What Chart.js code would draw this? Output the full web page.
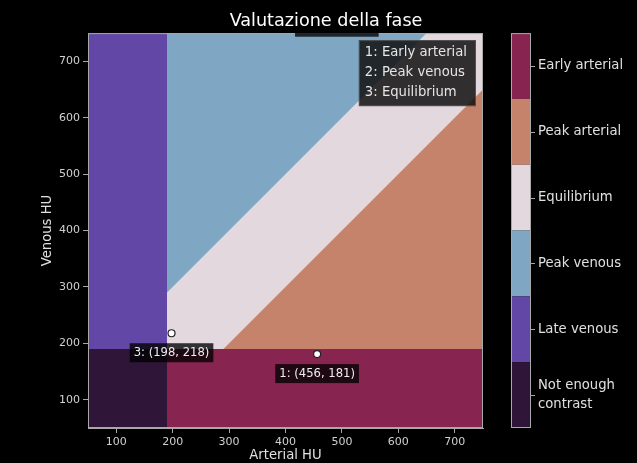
<!DOCTYPE html>
<html>
<head>
<meta charset="utf-8">
<script src="https://cdn.jsdelivr.net/npm/chart.js@4.4.1/dist/chart.umd.min.js"></script>
<style>
  html, body { margin: 0; padding: 0; background: #000; }
  canvas { display: block; }
</style>
</head>
<body>
<canvas id="fase" width="637" height="463"></canvas>
<script>
const phases = ["Early arterial", "Peak arterial", "Equilibrium", "Peak venous", "Late venous", ["Not enough", "contrast"]];
const phaseColors = ["#87244f", "#c4836a", "#e2d8de", "#7fa6c2", "#6247a6", "#2f1538"];

// edge of each phase region, the fill runs to the top or bottom of the plot
const equilibriumEdge = [[50, 750], [750, 750]];
const peakVenousEdge = [[50, 150], [650, 750], [750, 750]];
const peakArterialEdge = [[150, 50], [750, 650]];
const earlyArterialEdge = [[190, 190], [750, 190]];
const lateVenousEdge = [[50, 750], [190, 750]];
const lowContrastEdge = [[50, 190], [190, 190]];

const pointIds = ["1", "2", "3"];
const arterialHU = [456, 491, 198];
const venousHU = [181, 795, 218];
const legendLines = ["1: Early arterial", "2: Peak venous", "3: Equilibrium"];

const huTicks = [100, 200, 300, 400, 500, 600, 700];

Chart.defaults.font.family = "'DejaVu Sans', sans-serif";

function region(edge, color, fill, order) {
  return {
    type: "line",
    data: edge.map(([x, y]) => ({ x, y })),
    backgroundColor: color,
    borderColor: "transparent",
    borderWidth: 0,
    pointRadius: 0,
    tension: 0,
    fill,
    order
  };
}

const overlay = {
  id: "overlay",
  afterDatasetsDraw(chart) {
    const { ctx, chartArea: a, scales: { x, y, cb } } = chart;
    ctx.save();

    // plot frame
    ctx.strokeStyle = "#a8a8a8";
    ctx.lineWidth = 1;
    ctx.strokeRect(a.left + 0.5, a.top + 0.5, a.right - a.left - 1, a.bottom - a.top - 1);

    // colour bar
    const bx = cb.left + 28, bw = 20, n = phases.length;
    phases.forEach((p, i) => {
      const top = cb.getPixelForValue(n - i);
      const bot = cb.getPixelForValue(n - i - 1);
      ctx.fillStyle = phaseColors[i];
      ctx.fillRect(bx, top, bw, bot - top);
      const mid = Math.round((top + bot) / 2);
      ctx.beginPath();
      ctx.moveTo(bx + bw, mid + 0.5);
      ctx.lineTo(bx + bw + 4, mid + 0.5);
      ctx.stroke();
    });
    ctx.strokeRect(bx + 0.5, cb.getPixelForValue(n) + 0.5, bw - 1, cb.getPixelForValue(0) - cb.getPixelForValue(n) - 1);

    // point labels (the one above the plot slips under the title)
    const clipTop = a.top - 5;
    ctx.save();
    ctx.beginPath();
    ctx.rect(0, clipTop, chart.width, chart.height);
    ctx.clip();
    ctx.font = "11.6px 'DejaVu Sans'";
    ctx.textAlign = "center";
    ctx.textBaseline = "middle";
    pointIds.forEach((id, i) => {
      const px = x.getPixelForValue(arterialHU[i]);
      const py = y.getPixelForValue(venousHU[i]);
      const txt = id + ": (" + arterialHU[i] + ", " + venousHU[i] + ")";
      const w = ctx.measureText(txt).width + 8;
      ctx.fillStyle = "rgba(0,0,0,0.78)";
      ctx.fillRect(px - w / 2, py + 10, w, 19);
      if (py + 14 >= clipTop) {
        ctx.fillStyle = "#eeeeee";
        ctx.fillText(txt, px, py + 20);
      }
    });
    ctx.restore();

    // legend box
    ctx.font = "13.2px 'DejaVu Sans'";
    const lw = Math.max(...legendLines.map(t => ctx.measureText(t).width)) + 15;
    const lh = 66;
    const lx = a.right - 7 - lw, ly = a.top + 7;
    ctx.fillStyle = "rgba(16,16,16,0.85)";
    ctx.fillRect(lx, ly, lw, lh);
    ctx.strokeStyle = "rgba(90,90,90,0.8)";
    ctx.strokeRect(lx + 0.5, ly + 0.5, lw - 1, lh - 1);
    ctx.fillStyle = "#e6e6e6";
    ctx.textAlign = "left";
    ctx.textBaseline = "middle";
    legendLines.forEach((t, i) => ctx.fillText(t, lx + 6, ly + 12 + i * 20.3));

    ctx.restore();
  }
};

new Chart(document.getElementById("fase"), {
  type: "line",
  data: {
    datasets: [
      {
        type: "line",
        data: arterialHU.map((v, i) => ({ x: v, y: venousHU[i] })),
        showLine: false,
        pointRadius: 3.5,
        pointBackgroundColor: "#ffffff",
        pointBorderColor: "#222222",
        pointBorderWidth: 1.2,
        order: 0
      },
      region(lowContrastEdge, phaseColors[5], "start", 1),
      region(lateVenousEdge, phaseColors[4], "start", 2),
      region(earlyArterialEdge, phaseColors[0], "start", 3),
      region(peakArterialEdge, phaseColors[1], "start", 4),
      region(peakVenousEdge, phaseColors[3], "end", 5),
      region(equilibriumEdge, phaseColors[2], "start", 6)
    ]
  },
  options: {
    responsive: false,
    animation: false,
    layout: { padding: { left: 15, right: 0, top: 0, bottom: 0 } },
    plugins: {
      legend: { display: false },
      tooltip: { enabled: false },
      title: {
        display: true,
        text: "Valutazione della fase",
        color: "#ffffff",
        font: { size: 17.6, weight: "normal" },
        padding: { top: 11, bottom: 1 }
      }
    },
    scales: {
      x: {
        type: "linear",
        min: 50,
        max: 750,
        afterBuildTicks: s => { s.ticks = huTicks.map(v => ({ value: v })); },
        afterFit: s => { s.height = 35; },
        ticks: { color: "#d0d0d0", font: { size: 11 }, padding: 3, maxRotation: 0 },
        grid: { drawOnChartArea: false, tickLength: 5, color: "#a8a8a8" },
        border: { color: "#a8a8a8" },
        title: { display: true, text: "Arterial HU", color: "#e0e0e0", font: { size: 13.2 }, padding: { top: 0, bottom: 0 } }
      },
      y: {
        type: "linear",
        min: 50,
        max: 750,
        afterBuildTicks: s => { s.ticks = huTicks.map(v => ({ value: v })); },
        afterFit: s => { s.width = 73; },
        ticks: { color: "#d0d0d0", font: { size: 11 }, padding: 3 },
        grid: { drawOnChartArea: false, tickLength: 5, color: "#a8a8a8" },
        border: { color: "#a8a8a8" },
        title: { display: true, text: "Venous HU", color: "#e0e0e0", font: { size: 13.2 }, padding: { top: 25, bottom: 0 } }
      },
      cb: {
        type: "linear",
        position: "right",
        min: 0,
        max: phases.length,
        afterBuildTicks: s => { s.ticks = phases.map((p, i) => ({ value: phases.length - i - 0.5 })); },
        afterFit: s => { s.width = 154; },
        ticks: {
          callback: v => phases[phases.length - 1 - Math.floor(v)],
          color: "#e0e0e0",
          font: { size: 13.2, lineHeight: 1.45 },
          padding: 0
        },
        grid: { display: true, drawOnChartArea: false, drawTicks: true, tickLength: 55, color: "transparent" },
        border: { display: false }
      }
    }
  },
  plugins: [overlay]
});
</script>
</body>
</html>
